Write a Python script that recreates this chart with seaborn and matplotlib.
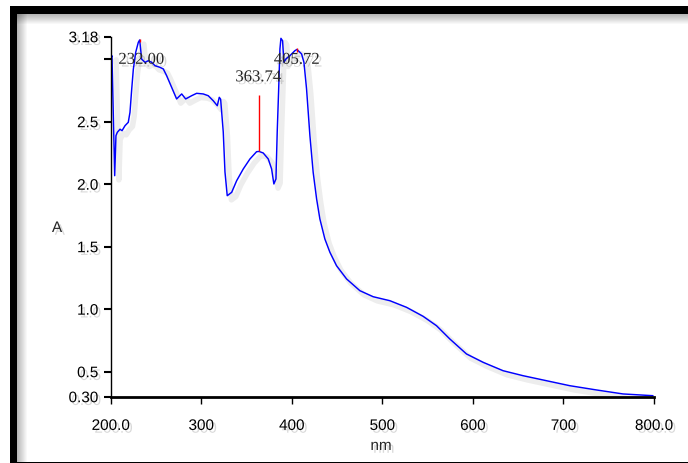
import numpy as np
import pandas as pd
import matplotlib
matplotlib.use("Agg")
import matplotlib.pyplot as plt
import matplotlib.patheffects as pe
from matplotlib.patches import Rectangle
import seaborn as sns

# ---- data ----
wavelength = [200.3, 201.4, 202.5, 204.4, 205.8, 207.3, 210.3, 212.5, 215.8, 219.4,
              221.3, 223.2, 225.0, 227.6, 230.5, 232.0, 234.2, 237.9, 241.5, 245.3,
              248.9, 254.4, 258.1, 261.8, 267.3, 272.8, 278.4, 282.8, 289.4, 294.9,
              302.2, 307.7, 313.2, 317.7, 319.9, 321.4, 324.3, 326.2, 328.7, 333.6,
              339.1, 346.4, 353.8, 361.1, 363.74, 368.4, 374.0, 377.7, 380.2, 382.5,
              383.9, 385.4, 386.9, 388.0, 389.8, 391.3, 393.5, 397.9, 403.4, 405.72,
              410.8, 413.4, 416.3, 420.0, 423.6, 427.4, 431.0, 436.5, 442.1, 449.4,
              460.5, 475.2, 489.8, 508.3, 526.7, 545.0, 559.8, 574.5, 592.9, 611.3,
              633.3, 655.4, 681.2, 707.0, 736.4, 765.8, 798.9]
absorbance = [3.015, 3.028, 2.68, 2.068, 2.388, 2.415, 2.44, 2.428, 2.468, 2.495,
              2.575, 2.76, 2.92, 3.055, 3.135, 3.154, 3.0, 2.975, 2.988, 2.975,
              2.948, 2.935, 2.922, 2.868, 2.775, 2.682, 2.722, 2.682, 2.708, 2.727,
              2.722, 2.708, 2.668, 2.628, 2.695, 2.68, 2.418, 2.098, 1.908, 1.935,
              2.028, 2.122, 2.202, 2.26, 2.262, 2.25, 2.202, 2.122, 2.002, 2.042,
              2.418, 2.738, 3.082, 3.167, 3.148, 2.975, 3.002, 3.028, 3.068, 3.078,
              3.042, 2.975, 2.762, 2.388, 2.095, 1.882, 1.722, 1.562, 1.455, 1.348,
              1.242, 1.148, 1.10, 1.068, 1.015, 0.943, 0.868, 0.762, 0.642, 0.575,
              0.508, 0.468, 0.428, 0.388, 0.354, 0.322, 0.308]

peak_nm = [232.00, 363.74, 405.72]
peak_abs = [3.154, 2.262, 3.078]
peak_labels = ["232.00", "363.74", "405.72"]

x_ticks = [200, 300, 400, 500, 600, 700, 800]
x_ticklabels = ["200.0", "300", "400", "500", "600", "700", "800.0"]
y_ticks = [0.30, 0.5, 1.0, 1.5, 2.0, 2.5, 3.0, 3.18]
y_ticklabels = ["0.30", "0.5", "1.0", "1.5", "2.0", "2.5", "", "3.18"]

df = pd.DataFrame({"nm": wavelength, "A": absorbance})

sns.set_style("white")
plt.rcParams["font.family"] = ["Liberation Sans", "DejaVu Sans"]

W, H = 688, 464
fig = plt.figure(figsize=(W / 100, H / 100), dpi=100)
fig.patch.set_facecolor("white")

# ---- frame with soft shadow ----
for i in range(10):
    a = 0.28 * (1 - i / 10)
    fig.patches.append(Rectangle((17 / W + i / W, 0), 1 / W, (H - 15) / H,
                                 transform=fig.transFigure, color="black", alpha=a, lw=0))
    fig.patches.append(Rectangle((17 / W, (H - 16 - i) / H), (W - 17) / W, 1 / H,
                                 transform=fig.transFigure, color="black", alpha=a, lw=0))
fig.patches.append(Rectangle((10 / W, 0), 7 / W, (H - 7) / H, transform=fig.transFigure,
                             color="black", lw=0))
fig.patches.append(Rectangle((10 / W, (H - 15) / H), (W - 10) / W, 8 / H,
                             transform=fig.transFigure, color="black", lw=0))
fig.patches.append(Rectangle((10 / W, 0), (W - 10) / W, 1.2 / H, transform=fig.transFigure,
                             color="black", lw=0))

left, right, bottom_px, top_px = 110.7, 654.0, 397.7, 37.7
ax = fig.add_axes([left / W, 1 - bottom_px / H, (right - left) / W, (bottom_px - top_px) / H])
ax.set_facecolor("none")

shadow = [pe.SimpleLineShadow(offset=(3, -3), shadow_color="black", alpha=0.07, linewidth=4),
          pe.Normal()]
sns.lineplot(data=df, x="nm", y="A", ax=ax, color="#0000ff", linewidth=1.05,
             sort=False, path_effects=shadow)

# peak markers
ax.vlines(peak_nm[0], peak_abs[0] - 0.02, peak_abs[0] + 0.01, color="#ff0000", lw=1)
ax.vlines(peak_nm[2], peak_abs[2] - 0.02, peak_abs[2] + 0.01, color="#ff0000", lw=1)
ax.vlines(peak_nm[1], peak_abs[1], 2.712, color="#ff0000", lw=1)

tshadow = [pe.withSimplePatchShadow(offset=(2, -2), shadow_rgbFace="black", alpha=0.15)]
ax.text(208.5, 2.995, peak_labels[0], family=["Liberation Serif"], fontsize=12,
        ha="left", va="center", path_effects=tshadow)
ax.text(363.0, 2.855, peak_labels[1], family=["Liberation Serif"], fontsize=12,
        ha="center", va="center", path_effects=tshadow)
ax.text(405.5, 2.995, peak_labels[2], family=["Liberation Serif"], fontsize=12,
        ha="center", va="center", path_effects=tshadow)

ax.set_xlim(200, 800)
ax.set_ylim(0.30, 3.18)
ax.set_xticks(x_ticks)
ax.set_xticklabels(x_ticklabels)
ax.set_yticks(y_ticks)
ax.set_yticklabels(y_ticklabels)
ax.set_xlabel("")
ax.set_ylabel("")

for s in ["top", "right"]:
    ax.spines[s].set_visible(False)
ax.spines["left"].set_linewidth(1.0)
ax.spines["bottom"].set_linewidth(2.0)
ax.spines["left"].set_color("black")
ax.spines["bottom"].set_color("black")

ax.tick_params(axis="x", direction="out", length=5, width=1, pad=11, labelsize=11,
               colors="black", bottom=True)
ax.tick_params(axis="y", direction="out", length=5, width=1.5, pad=4, labelsize=11,
               colors="black", left=True)
for lab in ax.get_xticklabels() + ax.get_yticklabels():
    lab.set_path_effects(tshadow)

fig.text(57 / W, 1 - 229 / H, "A", fontsize=11, ha="center", va="center",
         path_effects=tshadow)
fig.text(381 / W, 1 - 447 / H, "nm", fontsize=11, ha="center", va="center",
         path_effects=tshadow)

fig.savefig("out.png", dpi=100, facecolor="white")
